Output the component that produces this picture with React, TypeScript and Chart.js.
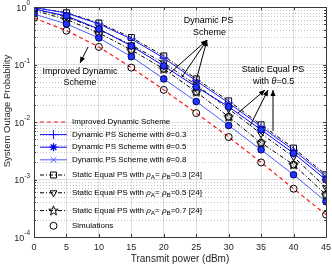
import React, { useEffect, useRef } from 'react';
import { Chart, registerables } from 'chart.js';
import { drawPoint } from 'chart.js/helpers';

Chart.register(...registerables);

const powerDbm = [0, 5, 10, 15, 20, 25, 30, 35, 40, 45];
const improvedDynamic = [0.644, 0.388, 0.202, 0.0883, 0.0362, 0.0143, 0.00547, 0.00198, 0.000692, 0.000245];
const dynTheta03 = [0.98, 0.787, 0.507, 0.278, 0.13, 0.0519, 0.0215, 0.00826, 0.00323, 0.00112];
const dynTheta05 = [0.923, 0.698, 0.415, 0.21, 0.0946, 0.0408, 0.0184, 0.00732, 0.00286, 0.00099];
const dynTheta08 = [0.756, 0.507, 0.29, 0.137, 0.0562, 0.0227, 0.00869, 0.00329, 0.00121, 0.000412];
const staticRho03 = [0.98, 0.796, 0.527, 0.295, 0.141, 0.0562, 0.0233, 0.00894, 0.00352, 0.00121];
const staticRho05 = [0.923, 0.67, 0.407, 0.219, 0.1066, 0.0442, 0.0169, 0.00624, 0.00249, 0.000721];
const staticRho07 = [0.869, 0.607, 0.354, 0.179, 0.0839, 0.0334, 0.0123, 0.00435, 0.00181, 0.000545];

const xTickValues = [0, 5, 10, 15, 20, 25, 30, 35, 40, 45];
const yDecades = [0, -1, -2, -3, -4];
const yMinorMultipliers = [2, 3, 4, 5, 6, 7, 8, 9];

const seriesLabels = [
  'Improved Dynamic Scheme',
  'Dynamic PS Scheme with θ=0.3',
  'Dynamic PS Scheme with θ=0.5',
  'Dynamic PS Scheme with θ=0.8',
  'Static Equal PS with ρ_A= ρ_B=0.3 [24]',
  'Static Equal PS with ρ_A= ρ_B=0.5 [24]',
  'Static Equal PS with ρ_A= ρ_B=0.7 [24]',
  'Simulations',
];

const xTitle = 'Transmit power (dBm)';
const yTitle = 'System Outage Probability';

const FONT = '"Liberation Sans", Arial, Helvetica, sans-serif';
const AXIS = '#262626';

const pts = (ys: number[]) => ys.map((y, i) => ({ x: powerDbm[i], y }));

function makePentagram(): HTMLCanvasElement {
  const c = document.createElement('canvas');
  c.width = 11;
  c.height = 11;
  const g = c.getContext('2d')!;
  g.strokeStyle = '#000';
  g.lineWidth = 1;
  g.beginPath();
  const R = 5, r = 2.1, cx = 5.5, cy = 5.8;
  for (let i = 0; i < 10; i++) {
    const rad = i % 2 === 0 ? R : r;
    const ang = -Math.PI / 2 + (i * Math.PI) / 5;
    const px = cx + rad * Math.cos(ang);
    const py = cy + rad * Math.sin(ang);
    if (i === 0) g.moveTo(px, py);
    else g.lineTo(px, py);
  }
  g.closePath();
  g.stroke();
  return c;
}

const isMajor = (v: number) => Math.abs(Math.log10(v) - Math.round(Math.log10(v))) < 1e-6;

function drawRich(ctx: CanvasRenderingContext2D, text: string, x: number, y: number, size: number) {
  let cx = x;
  for (let i = 0; i < text.length; i++) {
    let ch = text[i];
    let sub = false;
    if (ch === '_') {
      sub = true;
      i++;
      ch = text[i];
    }
    const italic = ch === 'ρ' || ch === 'θ';
    const fs = sub ? size * 0.78 : size;
    ctx.font = `${italic ? 'italic ' : ''}${fs}px ${FONT}`;
    ctx.fillText(ch, cx, sub ? y + 2.5 : y);
    cx += ctx.measureText(ch).width;
  }
}

function arrow(ctx: CanvasRenderingContext2D, fx: number, fy: number, tx: number, ty: number) {
  ctx.beginPath();
  ctx.moveTo(fx, fy);
  ctx.lineTo(tx, ty);
  ctx.stroke();
  const ang = Math.atan2(ty - fy, tx - fx);
  const L = 6, W = 2.6;
  ctx.beginPath();
  ctx.moveTo(tx, ty);
  ctx.lineTo(tx - L * Math.cos(ang) + W * Math.sin(ang), ty - L * Math.sin(ang) - W * Math.cos(ang));
  ctx.lineTo(tx - L * Math.cos(ang) - W * Math.sin(ang), ty - L * Math.sin(ang) + W * Math.cos(ang));
  ctx.closePath();
  ctx.fill();
}

const decorPlugin = {
  id: 'decor',
  beforeDatasetsDraw(chart: any) {
    const { ctx, chartArea: a, scales } = chart;
    const y = scales.y;
    ctx.save();
    ctx.strokeStyle = 'rgba(38,38,38,0.28)';
    ctx.lineWidth = 1;
    ctx.setLineDash([1, 2]);
    for (const t of y.ticks) {
      if (isMajor(t.value)) continue;
      const py = Math.round(y.getPixelForValue(t.value)) + 0.5;
      ctx.beginPath();
      ctx.moveTo(a.left, py);
      ctx.lineTo(a.right, py);
      ctx.stroke();
    }
    ctx.restore();
  },
  afterDraw(chart: any) {
    const { ctx, chartArea: a, scales } = chart;
    const x = scales.x;
    const y = scales.y;
    ctx.save();
    // box
    ctx.strokeStyle = '#3a3a3a';
    ctx.lineWidth = 1;
    ctx.strokeRect(Math.round(a.left) + 0.5, Math.round(a.top) + 0.5, Math.round(a.right - a.left), Math.round(a.bottom - a.top));
    // ticks
    ctx.beginPath();
    for (const t of y.ticks) {
      const py = Math.round(y.getPixelForValue(t.value)) + 0.5;
      const len = isMajor(t.value) ? 3 : 2;
      ctx.moveTo(a.left, py);
      ctx.lineTo(a.left + len, py);
      ctx.moveTo(a.right, py);
      ctx.lineTo(a.right - len, py);
    }
    for (const v of xTickValues) {
      const px = Math.round(x.getPixelForValue(v)) + 0.5;
      ctx.moveTo(px, a.bottom);
      ctx.lineTo(px, a.bottom - 3);
      ctx.moveTo(px, a.top);
      ctx.lineTo(px, a.top + 3);
    }
    ctx.stroke();

    ctx.fillStyle = AXIS;
    // x tick labels
    ctx.font = `9px ${FONT}`;
    ctx.textAlign = 'center';
    ctx.textBaseline = 'middle';
    for (const v of xTickValues) {
      ctx.fillText(String(v), x.getPixelForValue(v), a.bottom + 11);
    }
    // y tick labels 10^k
    for (const d of yDecades) {
      const py = y.getPixelForValue(Math.pow(10, d));
      const exp = d === 0 ? '0' : '-' + String(-d);
      ctx.font = `6.5px ${FONT}`;
      const we = ctx.measureText(exp).width;
      const right = a.left - 4;
      ctx.textAlign = 'left';
      ctx.fillText(exp, right - we, py - 3.5);
      ctx.font = `9px ${FONT}`;
      ctx.textAlign = 'right';
      ctx.fillText('10', right - we, py + 1.5);
    }
    // titles
    ctx.font = `10px ${FONT}`;
    ctx.textAlign = 'center';
    ctx.fillText(xTitle, (a.left + a.right) / 2, a.bottom + 22);
    ctx.save();
    ctx.translate(7, 111);
    ctx.rotate(-Math.PI / 2);
    ctx.font = `9.5px ${FONT}`;
    ctx.fillText(yTitle, 0, 0);
    ctx.restore();

    // annotations
    ctx.fillStyle = '#000';
    ctx.strokeStyle = '#000';
    ctx.lineWidth = 1;
    ctx.font = `9px ${FONT}`;
    ctx.textAlign = 'center';
    ctx.fillText('Improved Dynamic', 80, 72);
    ctx.fillText('Scheme', 80, 82.5);
    arrow(ctx, 88, 47, 80, 63);
    ctx.fillText('Dynamic PS', 208.5, 21);
    ctx.fillText('Scheme', 209.5, 33);
    arrow(ctx, 170, 73, 207, 40);
    arrow(ctx, 182, 77, 207, 40);
    arrow(ctx, 196, 81, 207, 40);
    ctx.fillText('Static Equal PS', 273, 69.5);
    ctx.textAlign = 'left';
    drawRich(ctx, 'with θ=0.5', 253, 81.5, 9);
    arrow(ctx, 238, 113, 265, 90);
    arrow(ctx, 250, 126, 268, 90);
    arrow(ctx, 273, 131, 273, 90);

    // legend
    const datasets = chart.data.datasets;
    let rowY = 122;
    let prevSub: boolean | null = null;
    ctx.textAlign = 'left';
    ctx.textBaseline = 'middle';
    for (const ds of datasets) {
      if (ds.legendHidden) continue;
      const sub = ds.label.includes('_');
      if (prevSub !== null) {
        rowY += 12.6 + (sub ? 2.6 : 0) + (prevSub ? 2.6 : 0);
      }
      prevSub = sub;
      if (ds.showLine !== false) {
        ctx.save();
        ctx.strokeStyle = ds.borderColor;
        ctx.lineWidth = ds.borderWidth;
        ctx.setLineDash(ds.borderDash || []);
        ctx.beginPath();
        ctx.moveTo(40, rowY);
        ctx.lineTo(67, rowY);
        ctx.stroke();
        ctx.restore();
      }
      if (ds.pointRadius > 0) {
        ctx.save();
        ctx.strokeStyle = ds.pointBorderColor;
        ctx.fillStyle = ds.pointBackgroundColor;
        ctx.lineWidth = ds.pointBorderWidth;
        ctx.setLineDash([]);
        drawPoint(ctx, { pointStyle: ds.pointStyle, rotation: ds.pointRotation || 0, radius: ds.pointRadius, borderWidth: ds.pointBorderWidth }, 53.5, rowY);
        ctx.restore();
      }
      ctx.fillStyle = '#000';
      drawRich(ctx, ds.label, 72, rowY, 8);
    }
    ctx.restore();
  },
};

export default function App() {
  const ref = useRef<HTMLCanvasElement>(null);
  useEffect(() => {
    document.body.style.margin = '0';
    const pent = makePentagram();
    const dashDot = [4, 2, 1, 2];
    const lineDs = (label: string, ys: number[], color: string, extra: any) => ({
      type: 'line',
      label,
      data: pts(ys),
      borderColor: color,
      backgroundColor: color,
      borderWidth: 1,
      pointBorderColor: color,
      pointBackgroundColor: 'rgba(0,0,0,0)',
      pointBorderWidth: 1,
      pointRadius: 3.5,
      pointHoverRadius: 3.5,
      tension: 0,
      fill: false,
      ...extra,
    });
    const datasets: any[] = [
      lineDs(seriesLabels[0], improvedDynamic, '#ff1a1a', { borderDash: [4, 3], borderWidth: 1.2, pointRadius: 0 }),
      lineDs(seriesLabels[1], dynTheta03, '#1414ff', { pointStyle: 'cross', pointRadius: 4.5 }),
      lineDs(seriesLabels[2], dynTheta05, '#0000f0', { pointStyle: 'star', pointRadius: 4, pointBorderWidth: 1.3 }),
      lineDs(seriesLabels[3], dynTheta08, '#4a5cff', { pointStyle: 'crossRot', pointRadius: 4 }),
      lineDs(seriesLabels[4], staticRho03, '#000000', { borderDash: dashDot, pointStyle: 'rect', pointRadius: 4.2 }),
      lineDs(seriesLabels[5], staticRho05, '#000000', { borderDash: dashDot, pointStyle: 'triangle', pointRotation: 180, pointRadius: 4 }),
      lineDs(seriesLabels[6], staticRho07, '#000000', { borderDash: dashDot, pointStyle: pent, pointRadius: 5 }),
      {
        type: 'scatter',
        label: seriesLabels[7],
        data: [...pts(improvedDynamic), ...pts(staticRho07)],
        showLine: false,
        pointStyle: 'circle',
        pointRadius: 3.5,
        pointHoverRadius: 3.5,
        pointBorderWidth: 1,
        pointBorderColor: '#000',
        pointBackgroundColor: 'rgba(0,0,0,0)',
        borderColor: '#000',
        backgroundColor: 'rgba(0,0,0,0)',
        order: -1,
      },
      {
        type: 'scatter',
        label: seriesLabels[7],
        legendHidden: true,
        data: [...pts(dynTheta05), ...pts(dynTheta08)],
        showLine: false,
        pointStyle: 'circle',
        pointRadius: 3.3,
        pointHoverRadius: 3.3,
        pointBorderWidth: 1,
        pointBorderColor: '#00005a',
        pointBackgroundColor: '#1f35ff',
        borderColor: '#00005a',
        backgroundColor: '#1f35ff',
        order: -2,
      },
    ];

    const allYTicks: number[] = [];
    for (const d of yDecades) {
      allYTicks.push(Math.pow(10, d));
      if (d > -4) for (const m of yMinorMultipliers) allYTicks.push(m * Math.pow(10, d - 1));
    }

    const chart = new Chart(ref.current!, {
      type: 'line',
      data: { datasets },
      options: {
        animation: false,
        responsive: false,
        maintainAspectRatio: false,
        events: [],
        layout: { padding: { left: 0, top: 7, right: 5, bottom: 0 } },
        plugins: { legend: { display: false }, tooltip: { enabled: false }, title: { display: false } },
        scales: {
          x: {
            type: 'linear',
            min: 0,
            max: 45,
            ticks: { display: false, stepSize: 5 },
            border: { display: false },
            grid: {
              drawTicks: false,
              color: 'rgba(38,38,38,0.15)',
              lineWidth: 1,
            },
            afterFit: (s: any) => {
              s.height = 30;
            },
          },
          y: {
            type: 'logarithmic',
            min: 1e-4,
            max: 1,
            ticks: { display: false },
            border: { display: false },
            afterBuildTicks: (s: any) => {
              s.ticks = allYTicks.map((v) => ({ value: v }));
            },
            grid: {
              drawTicks: false,
              lineWidth: 1,
              color: (c: any) => (c.tick && isMajor(c.tick.value) ? 'rgba(38,38,38,0.15)' : 'rgba(0,0,0,0)'),
            },
            afterFit: (s: any) => {
              s.width = 34;
            },
          },
        },
      } as any,
      plugins: [decorPlugin as any],
    });
    return () => chart.destroy();
  }, []);

  return (
    <div style={{ width: 332, height: 267 }}>
      <canvas ref={ref} width={332} height={267} style={{ display: 'block', width: 332, height: 267 }} />
    </div>
  );
}
